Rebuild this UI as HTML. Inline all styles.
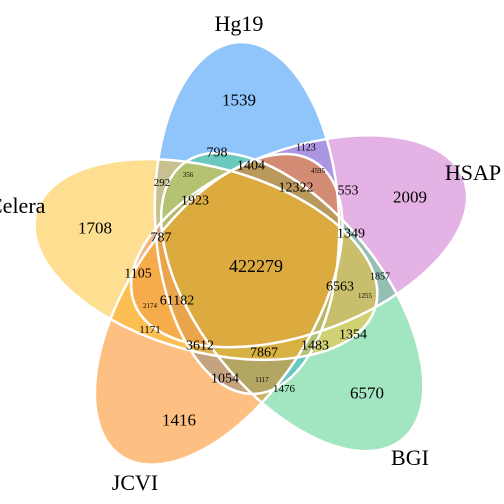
<!DOCTYPE html>
<html><head><meta charset="utf-8"><style>
html,body{margin:0;padding:0;background:#fff;}
svg{display:block;font-family:"Liberation Serif",serif;}
</style></head><body>
<svg id="venn" width="504" height="504" viewBox="0 0 504 504" xmlns="http://www.w3.org/2000/svg">
<g id="fills"></g><g id="outlines"></g><g id="labels"></g>
</svg>
<script>
const setNames = ["Hg19","HSAP","BGI","JCVI","Celera"];
const setColors = ["rgb(31,139,245)","rgb(201,101,201)","rgb(69,203,131)","rgb(251,129,5)","rgb(253,189,35)"];
const setAngles = [0,-72,-144,144,72];
const setLabelPos = [[239,31],[473,180],[410,465],[135,490],[-12,213]];
const regionCounts = [1539,798,1123,1404,356,4595,292,12322,553,2009,1923,1708,1349,787,422279,1105,1857,6563,1255,2174,61182,1171,1354,3612,1483,7867,1054,1117,1476,6570,1416];
const regionPos = [[239,100],[217,153],[306,148],[251,166],[188,175],[318,171],[162,183],[296,188],[348,191],[410,197],[195,201],[95,228],[351,234],[161,238],[256,266],[138,274],[380,277],[340,287],[365,296],[150,306],[177,301],[150,330],[353,335],[200,346],[315,346],[264,353],[225,379],[262,380],[284,389],[367,393],[179,420]];
const regionSize = [17,14,10,14,7,7,11,14,14,17,14,17,14,14,18,14,10,14,7,7,14,11,14,14,14,14,14,7,11,17,17];

const NS="http://www.w3.org/2000/svg";
const C=[255,267], off=[-8,-49], RX=92, RY=176, TILT=-2.5;
const nudge=[[0,0],[0,-3],[2,0],[-14,-2],[0,0]];
const fills=document.getElementById('fills'), outs=document.getElementById('outlines'), labs=document.getElementById('labels');
function centerFor(deg){
  const t=deg*Math.PI/180, c=Math.cos(t), s=Math.sin(t);
  return [C[0]+off[0]*c+off[1]*s, C[1]-off[0]*s+off[1]*c];
}
setNames.forEach((n,i)=>{
  let [cx,cy]=centerFor(setAngles[i]);
  cx+=nudge[i][0]; cy+=nudge[i][1];
  const rot=TILT-setAngles[i];
  const e=document.createElementNS(NS,'ellipse');
  
  
  e.setAttribute('cx',cx);e.setAttribute('cy',cy);e.setAttribute('rx',RX);e.setAttribute('ry',RY);
  e.setAttribute('transform',`rotate(${rot} ${cx} ${cy})`);
  e.setAttribute('fill',setColors[i]);e.setAttribute('fill-opacity','0.5');
  fills.appendChild(e);
  const o=document.createElementNS(NS,'ellipse');
  
  
  o.setAttribute('cx',cx);o.setAttribute('cy',cy);o.setAttribute('rx',RX);o.setAttribute('ry',RY);
  o.setAttribute('transform',`rotate(${rot} ${cx} ${cy})`);
  o.setAttribute('fill','none');o.setAttribute('stroke','#fff');o.setAttribute('stroke-width','2.5');
  outs.appendChild(o);
  const t=document.createElementNS(NS,'text');
  
  
  t.setAttribute('x',setLabelPos[i][0]);t.setAttribute('y',setLabelPos[i][1]);
  t.setAttribute('text-anchor',n==='Celera'?'start':'middle');t.setAttribute('font-size','22');
  t.textContent=n;labs.appendChild(t);
});
regionCounts.forEach((v,i)=>{
  const t=document.createElementNS(NS,'text');
  
  
  t.setAttribute('x',regionPos[i][0]);t.setAttribute('y',regionPos[i][1]);
  t.setAttribute('text-anchor','middle');t.setAttribute('dominant-baseline','central');
  t.setAttribute('font-size',regionSize[i]);
  t.textContent=v;labs.appendChild(t);
});
</script>
</body></html>
